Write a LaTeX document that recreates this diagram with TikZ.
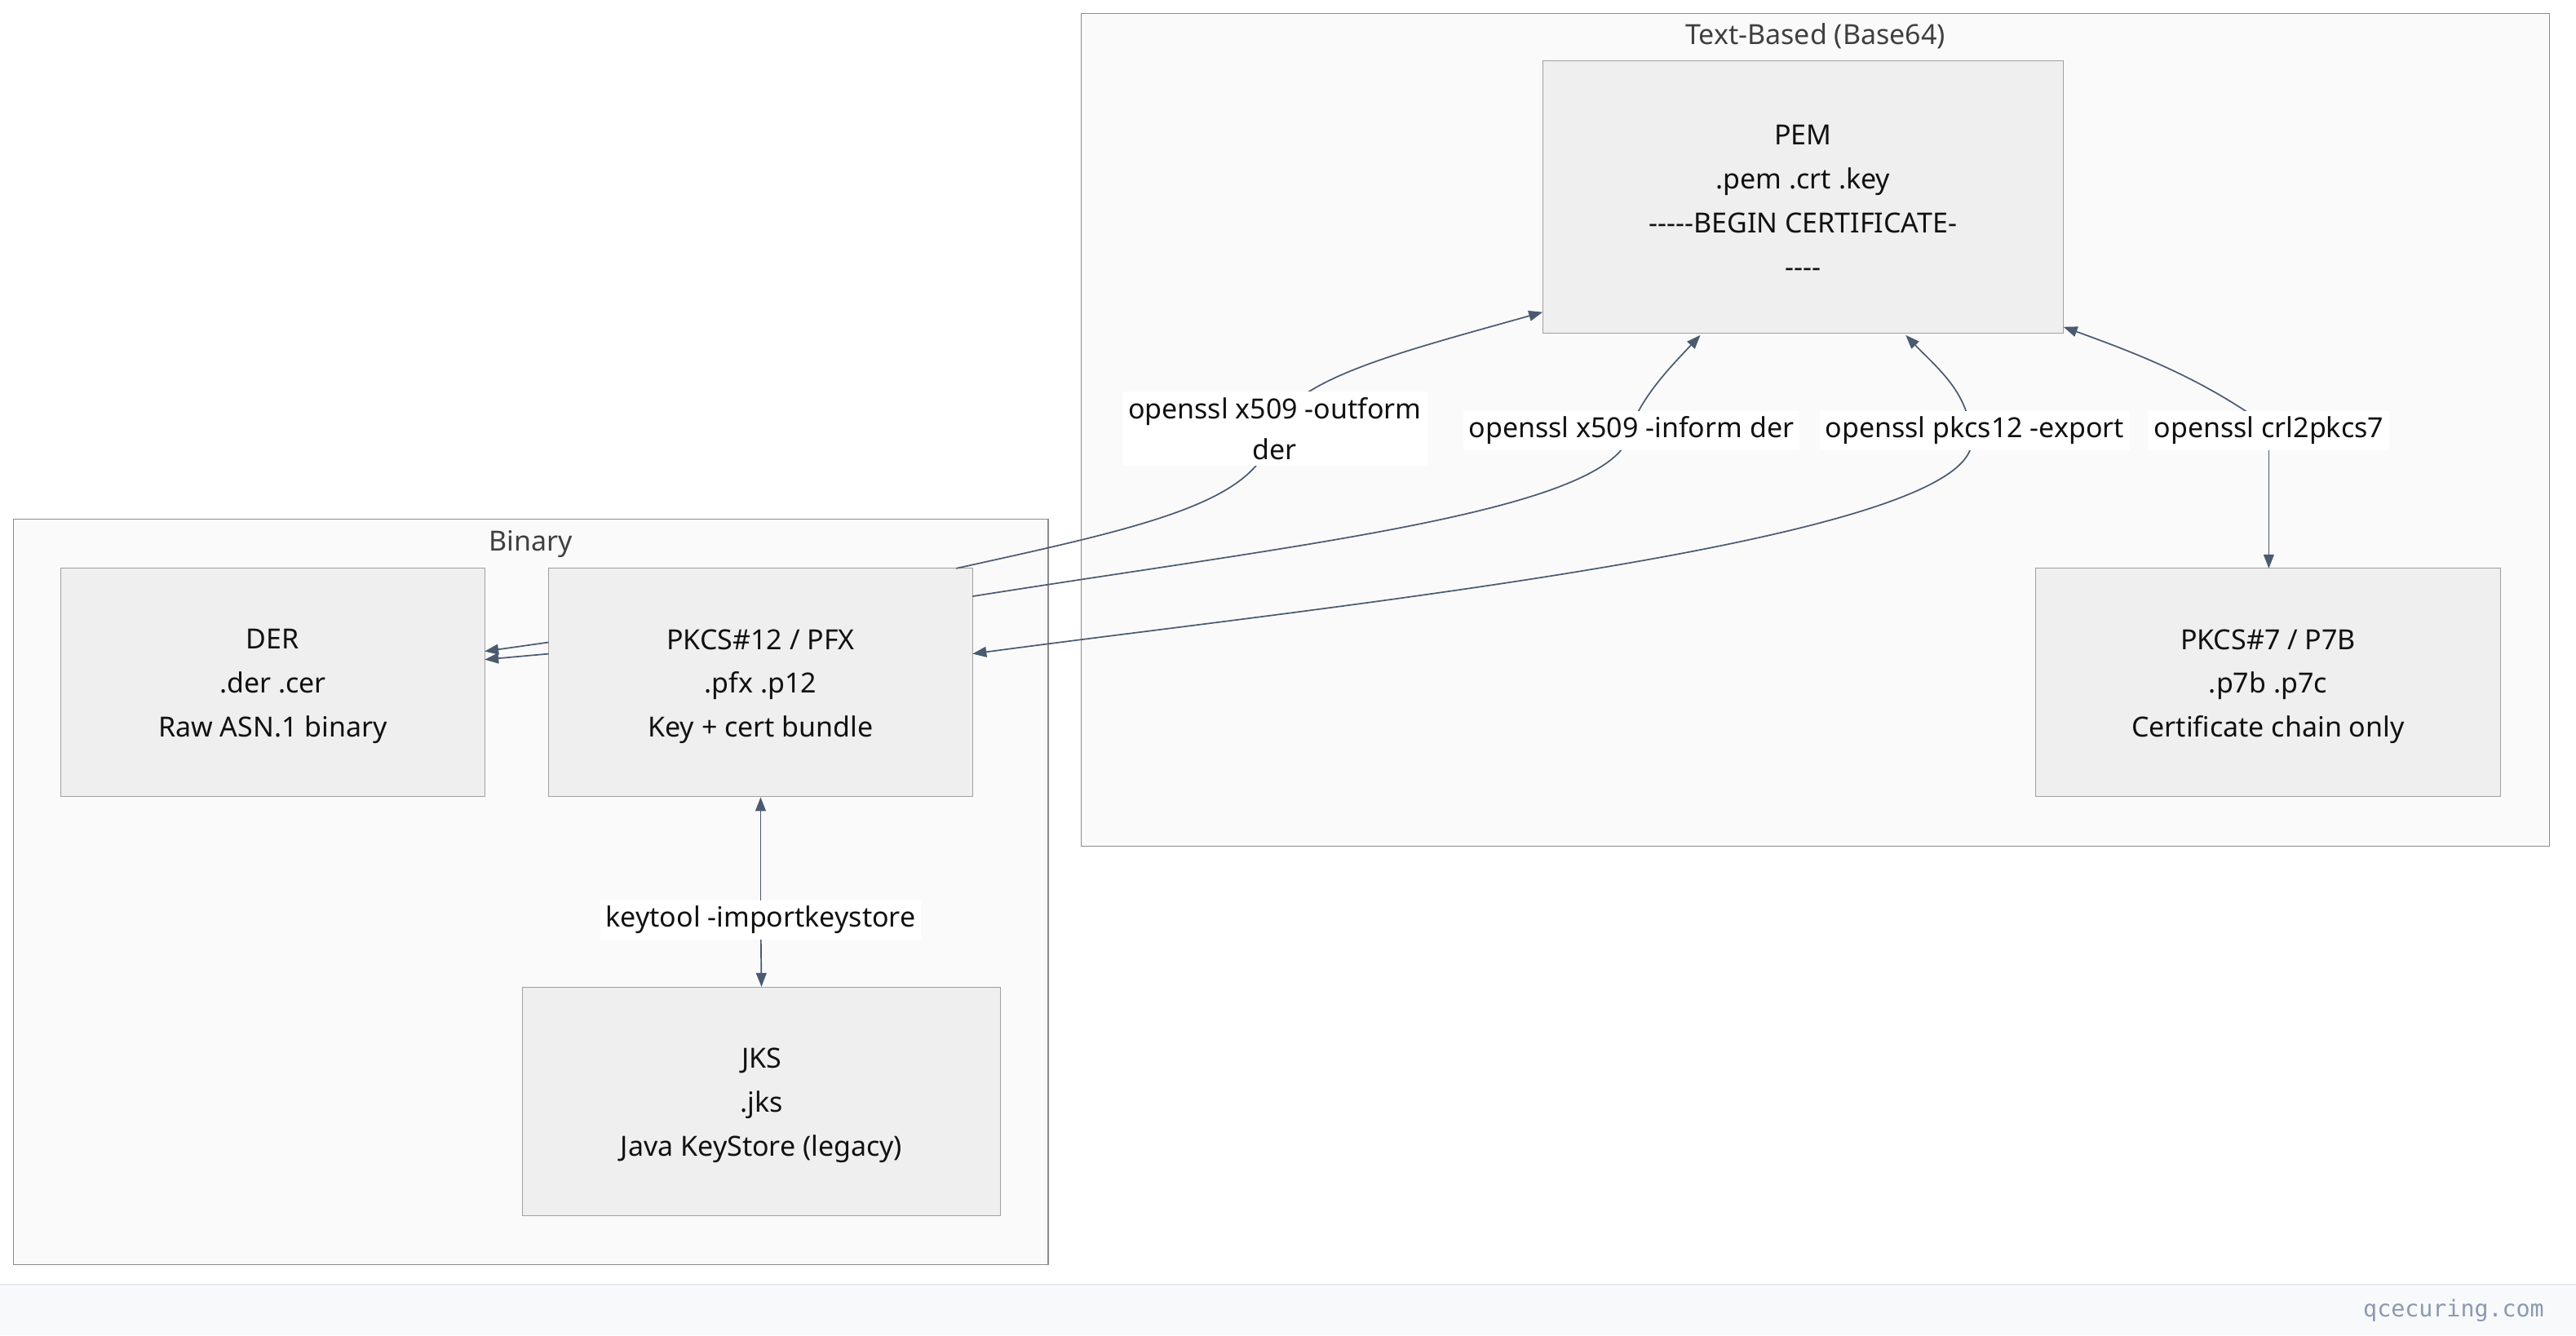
\documentclass[tikz,border=0pt]{standalone}
\usepackage{fontspec}
\setmainfont{Noto Sans}
\newfontfamily\monof{DejaVu Sans Mono}
\usetikzlibrary{arrows.meta}
\definecolor{nodefill}{HTML}{EFEFEF}
\definecolor{nodeline}{HTML}{A0A0A0}
\definecolor{clfill}{HTML}{FAFAFA}
\definecolor{clline}{HTML}{8C8C8C}
\definecolor{edge}{HTML}{4A5A70}
\definecolor{txt}{HTML}{111111}
\definecolor{foot}{HTML}{F8F9FB}
\definecolor{footline}{HTML}{E5E9F0}
\definecolor{foottxt}{HTML}{8A9AB0}
\begin{document}
\begin{tikzpicture}[x=0.05cm,y=-0.05cm,
  box/.style={draw=nodeline,fill=nodefill,line width=0.8pt},
  clu/.style={draw=clline,fill=clfill,line width=0.8pt},
  t/.style={font=\fontsize{24}{38}\selectfont,text=txt,align=center,inner sep=0pt},
  ct/.style={font=\fontsize{24}{30}\selectfont,text=black!75},
  lab/.style={font=\fontsize{24}{36}\selectfont,text=txt,fill=white,align=center,inner sep=5pt},
  e/.style={draw=edge,line width=1.2pt},
  ar/.style={-{Triangle[length=12pt,width=9pt]}},
  ar2/.style={{Triangle[length=12pt,width=9pt]}-{Triangle[length=12pt,width=9pt]}}]
\useasboundingbox (0,0) rectangle (1568,813);
\fill[white] (0,0) rectangle (1568,813);
% footer
\fill[foot] (0,782) rectangle (1568,813);
\draw[footline,line width=0.8pt] (0,782) -- (1568,782);
\node[anchor=east,font=\monof\fontsize{20}{24}\selectfont,text=foottxt] (wm) at (1551,798) {qcecuring.com};
% clusters
\draw[clu] (658,8) rectangle (1552,515);
\node[ct] (tbt) at (1105,22) {Text-Based (Base64)};
\draw[clu] (8,316) rectangle (638,770);
\node[ct] (bint) at (323,331) {Binary};
% nodes
\node[box,minimum width=317*0.05cm,minimum height=166*0.05cm] (pem) at (1097.5,120) {};
\node[t] at ([yshift=-0.12cm]pem.center) {PEM\\.pem .crt .key\\{-}{-}{-}{-}{-}BEGIN CERTIFICATE{-}\\{-}{-}{-}{-}};
\node[box,minimum width=283*0.05cm,minimum height=139*0.05cm] (p7) at (1380.5,415.5) {};
\node[t] at ([yshift=-0.12cm]p7.center) {PKCS\#7 / P7B\\.p7b .p7c\\Certificate chain only};
\node[box,minimum width=258*0.05cm,minimum height=139*0.05cm] (der) at (166,415.5) {};
\node[t] at ([yshift=-0.12cm]der.center) {DER\\.der .cer\\Raw ASN.1 binary};
\node[box,minimum width=258*0.05cm,minimum height=139*0.05cm] (p12) at (463,415.5) {};
\node[t] at ([yshift=-0.12cm]p12.center) {PKCS\#12 / PFX\\.pfx .p12\\Key + cert bundle};
\node[box,minimum width=291*0.05cm,minimum height=139*0.05cm] (jks) at (463.5,670.5) {};
\node[t] at ([yshift=-0.12cm]jks.center) {JKS\\.jks\\Java KeyStore (legacy)};
% coordinates
\coordinate (a1) at (582,346);
\coordinate (a2) at (592,363);
\coordinate (a3) at (592,398);
\coordinate (pa) at (939,190);
\coordinate (pb) at (1035,204);
\coordinate (pc) at (1160,204);
\coordinate (pd) at (1256,199);
\coordinate (q7) at (1381,346);
\coordinate (d1s) at (334,391);
\coordinate (d1e) at (295,396.5);
\coordinate (d2s) at (334,398);
\coordinate (d2e) at (295,401.5);
% edges
\draw[e,ar] (a1) .. controls (700,320) and (770,305) .. (775,260) .. controls (790,230) and (850,215) .. (pa);
\node[lab] (l1) at (776,261) {openssl x509 -outform\\der};
\draw[e,ar] (a2) .. controls (800,330) and (990,310) .. (993,260) .. controls (1000,240) and (1020,220) .. (pb);
\node[lab] (l2) at (993,262) {openssl x509 -inform der};
\draw[e,ar2] (pc) .. controls (1180,225) and (1200,240) .. (1200,270) .. controls (1195,330) and (800,370) .. (a3);
\node[lab] (l3) at (1202,262) {openssl pkcs12 -export};
\draw[e,ar] (1381,260) .. controls (1340,230) and (1300,215) .. (pd);
\draw[e,ar] (1381,260) .. controls (1381,275) and (1381,285) .. (q7);
\node[lab] (l4) at (1381,262) {openssl crl2pkcs7};
\draw[e,ar] (d1s) -- (d1e);
\draw[e,ar] (d2s) -- (d2e);
\draw[e,ar] (463,558) -- (p12.south);
\draw[e,ar] (463,558) -- (jks.north);
\node[lab] (l5) at (463,560) {keytool -importkeystore};
\end{tikzpicture}
\end{document}
